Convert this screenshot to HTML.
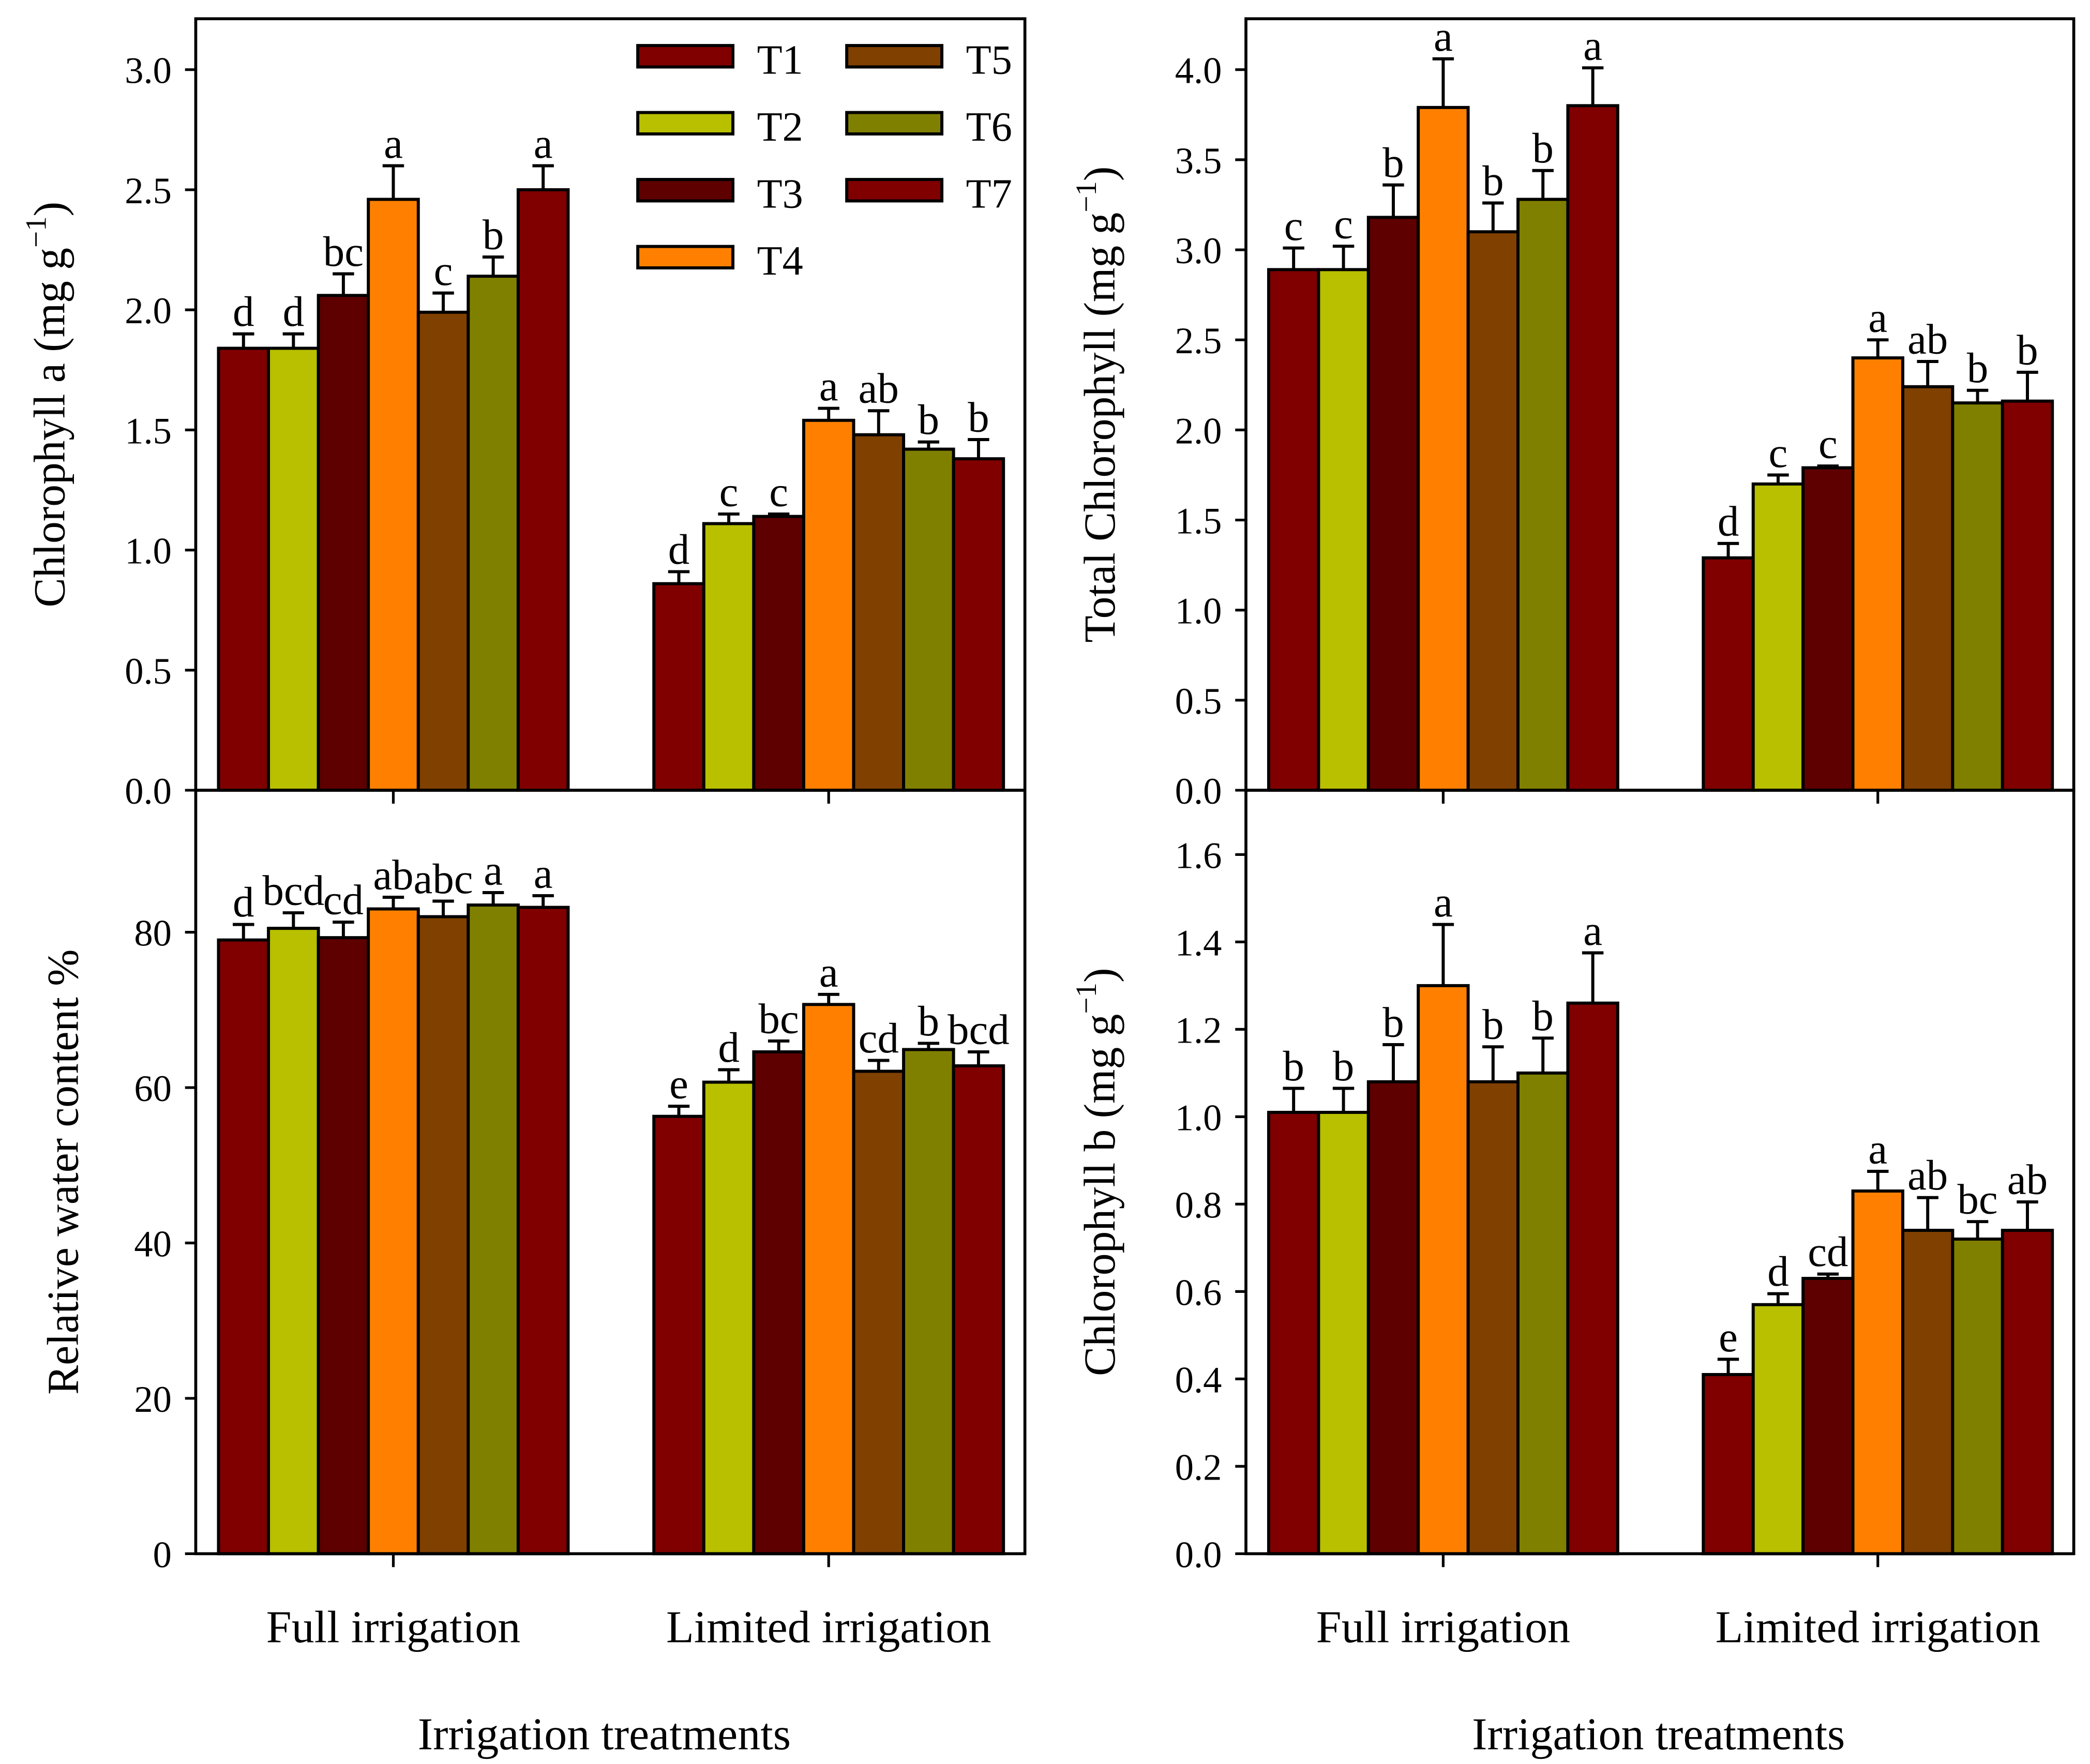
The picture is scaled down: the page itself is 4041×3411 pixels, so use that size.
<!DOCTYPE html>
<html><head><meta charset="utf-8"><style>
html,body{margin:0;padding:0;background:#fff}
svg{display:block}
text{font-family:"Liberation Serif",serif;fill:#000}
</style></head><body>
<svg id="fig" width="4041" height="3411" viewBox="0 0 1560 1317" xmlns="http://www.w3.org/2000/svg"></svg>
<script>
const treatments=["T1","T2","T3","T4","T5","T6","T7"];
const colors=["#800000","#b8c000","#5e0000","#ff8000","#804000","#808000","#800000"];
const groups=["Full irrigation","Limited irrigation"];
const chlaFull=[1.84,1.84,2.06,2.46,1.99,2.14,2.50];
const chlaFullErr=[0.06,0.06,0.09,0.14,0.08,0.08,0.10];
const chlaFullLet=["d","d","bc","a","c","b","a"];
const chlaLim=[0.86,1.11,1.14,1.54,1.48,1.42,1.38];
const chlaLimErr=[0.05,0.04,0.01,0.05,0.10,0.03,0.08];
const chlaLimLet=["d","c","c","a","ab","b","b"];
const chlaTicks=[0,0.5,1.0,1.5,2.0,2.5,3.0];
const totFull=[2.89,2.89,3.18,3.79,3.10,3.28,3.80];
const totFullErr=[0.12,0.13,0.18,0.27,0.16,0.16,0.21];
const totFullLet=["c","c","b","a","b","b","a"];
const totLim=[1.29,1.70,1.79,2.40,2.24,2.15,2.16];
const totLimErr=[0.08,0.05,0.01,0.10,0.14,0.07,0.16];
const totLimLet=["d","c","c","a","ab","b","b"];
const totTicks=[0,0.5,1.0,1.5,2.0,2.5,3.0,3.5,4.0];
const rwcFull=[79.0,80.5,79.3,83.0,82.0,83.5,83.2];
const rwcFullErr=[2.0,2.0,2.0,1.5,2.0,1.6,1.5];
const rwcFullLet=["d","bcd","cd","ab","abc","a","a"];
const rwcLim=[56.3,60.7,64.6,70.7,62.1,64.9,62.8];
const rwcLimErr=[1.3,1.6,1.4,1.3,1.4,0.8,1.8];
const rwcLimLet=["e","d","bc","a","cd","b","bcd"];
const rwcTicks=[0,20,40,60,80];
const chlbFull=[1.01,1.01,1.08,1.30,1.08,1.10,1.26];
const chlbFullErr=[0.055,0.055,0.085,0.14,0.08,0.08,0.115];
const chlbFullLet=["b","b","b","a","b","b","a"];
const chlbLim=[0.41,0.57,0.63,0.83,0.74,0.72,0.74];
const chlbLimErr=[0.035,0.025,0.01,0.045,0.075,0.04,0.065];
const chlbLimLet=["e","d","cd","a","ab","bc","ab"];
const chlbTicks=[0,0.2,0.4,0.6,0.8,1.0,1.2,1.4,1.6];

const NS="http://www.w3.org/2000/svg";
const svg=document.getElementById('fig');
function mk(tag,attrs,parent,txt){const e=document.createElementNS(NS,tag);for(const k in attrs)e.setAttribute(k,attrs[k]);if(txt!==undefined)e.textContent=txt;(parent||svg).appendChild(e);return e;}

function panel(name,x0,x1,yTop,yBot,vMax,yMaxPix,ticks,dec,full,fullErr,fullLet,lim,limErr,limLet,showX,titleLines,titleX){
  const g=mk('g',{});
  
  
  const yS=v=>yBot-(v/vMax)*(yBot-yMaxPix);
  const bw=(x1-x0)*261/619/7;
  const starts=[x0+(x1-x0)*17/619,x0+(x1-x0)*342/619];
  const sets=[[full,fullErr,fullLet],[lim,limErr,limLet]];
  sets.forEach((s,gi)=>{
    s[0].forEach((v,i)=>{
      const bx=starts[gi]+i*bw;
      const r=mk('rect',{x:bx,y:yS(v),width:bw,height:yBot-yS(v),fill:colors[i],stroke:'#000','stroke-width':2.3},g);
      
      
      const cx=bx+bw/2, et=yS(v+s[1][i]);
      const eb=mk('path',{d:`M${cx},${yS(v)}V${et}M${cx-8},${et}H${cx+8}`,stroke:'#000','stroke-width':2.3,fill:'none'},g);
      
      
      const t=mk('text',{x:cx,y:et-6,'text-anchor':'middle','font-size':32},g,s[2][i]);
      
      
    });
    const gc=starts[gi]+3.5*bw;
    mk('line',{x1:gc,y1:yBot,x2:gc,y2:yBot+10,stroke:'#000','stroke-width':2},g);
    if(showX){
      const xl=mk('text',{x:gc,y:1226,'text-anchor':'middle','font-size':34},g,groups[gi]);
      
      
    }
  });
  const fr=mk('rect',{x:x0,y:yTop,width:x1-x0,height:yBot-yTop,fill:'none',stroke:'#000','stroke-width':2.2},g);
  
  
  ticks.forEach(v=>{
    const y=yS(v);
    mk('line',{x1:x0-8,y1:y,x2:x0,y2:y,stroke:'#000','stroke-width':2},g);
    const tl=mk('text',{x:x0-18,y:y+10,'text-anchor':'end','font-size':28},g,v.toFixed(dec));
    
    
  });
  const cy=(yTop+yBot)/2;
  const tt=mk('text',{x:titleX,y:cy,'text-anchor':'middle','font-size':33,transform:`rotate(-90 ${titleX} ${cy})`},g);
  
  
  mk('tspan',{},tt,titleLines[0]);
  if(titleLines[1]){mk('tspan',{dy:-14,'font-size':22},tt,titleLines[1]);mk('tspan',{dy:14},tt,titleLines[2]);}
}

panel('chlorophyll-a',146,765,14,590,3.0,52,chlaTicks,1,chlaFull,chlaFullErr,chlaFullLet,chlaLim,chlaLimErr,chlaLimLet,false,["Chlorophyll a (mg g","\u22121",")"],48);
panel('total-chlorophyll',930,1548,14,590,4.0,52,totTicks,1,totFull,totFullErr,totFullLet,totLim,totLimErr,totLimLet,false,["Total Chlorophyll (mg g","\u22121",")"],832);
panel('relative-water-content',146,765,590,1160,80,696,rwcTicks,0,rwcFull,rwcFullErr,rwcFullLet,rwcLim,rwcLimErr,rwcLimLet,true,["Relative water content %"],58);
panel('chlorophyll-b',930,1548,590,1160,1.6,638,chlbTicks,1,chlbFull,chlbFullErr,chlbFullLet,chlbLim,chlbLimErr,chlbLimLet,true,["Chlorophyll b (mg g","\u22121",")"],832);

const xt1=mk('text',{x:451,y:1306,'text-anchor':'middle','font-size':34},svg,"Irrigation treatments");


const xt2=mk('text',{x:1238,y:1306,'text-anchor':'middle','font-size':34},svg,"Irrigation treatments");



const leg=mk('g',{});


treatments.forEach((t,i)=>{
  const col=i<4?0:1, row=i<4?i:i-4;
  const rx=col?632:476, ry=34+row*50;
  const e=mk('g',{},leg);
  
  
  mk('rect',{x:rx,y:ry,width:71,height:16,fill:colors[i],stroke:'#000','stroke-width':2.3},e);
  mk('text',{x:rx+89,y:ry+21,'font-size':31},e,t);
});
</script>
</body></html>
